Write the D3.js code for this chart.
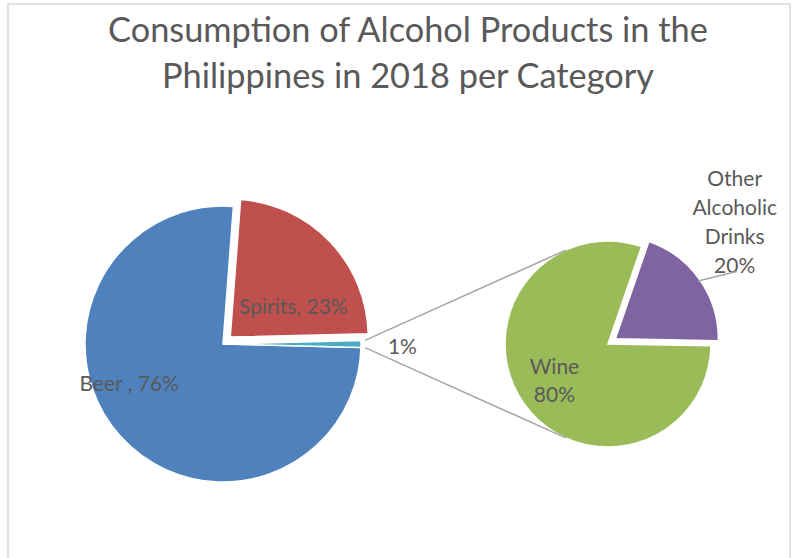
<!DOCTYPE html>
<html>
<head>
<meta charset="utf-8">
<script src="https://cdn.jsdelivr.net/npm/d3@7"></script>
<style>
  body { margin: 0; background: #fff; }
  text { font-family: Lato, "Open Sans", sans-serif; fill: #595959; }
</style>
</head>
<body>
<div id="chart"></div>
<script>
// Data
const mainCategories = ["Beer ", "Spirits", "Other"];
const mainValues = [75.8, 23.4, 0.8];
const subCategories = ["Wine", "Other Alcoholic Drinks"];
const subValues = [80, 20];
const titleLines = ["Consumption of Alcohol Products in the", "Philippines in 2018 per Category"];

// Function that draws the pie-of-pie chart
function drawPieOfPie() {
    const width = 795,
          height = 558;

    const svg = d3.select("#chart").append("svg")
        .attr("width", width)
        .attr("height", height);

    // chart border (bottom edge runs off the picture)
    svg.append("rect")
        .attr("x", 8).attr("y", 4)
        .attr("width", 782).attr("height", 620)
        .attr("fill", "#fff")
        .attr("stroke", "#d9d9d9")
        .attr("stroke-width", 1.5);

    // Title
    const title = svg.append("text")
        .attr("text-anchor", "middle")
        .style("font-size", "38px");
    title.selectAll("tspan")
        .data(titleLines)
        .enter()
        .append("tspan")
        .attr("x", 408)
        .attr("y", (d, i) => 42 + i * 46)
        .text(d => d);
    // fit the first line to the width seen in the picture
    const w0 = title.select("tspan").node().getComputedTextLength();
    title.style("font-size", (38 * 600 / w0) + "px");

    const cy = 344;
    const main = { cx: 223, r: 138 };
    const sub = { cx: 608, r: 103 };

    const mainColor = d3.scaleOrdinal().domain(mainCategories).range(["#4f81bd", "#c0504d", "#4bacc6"]);
    const subColor = d3.scaleOrdinal().domain(subCategories).range(["#9bbb59", "#8064a2"]);

    const polar = (cx, cyy, r, a) => [cx + r * Math.sin(a), cyy - r * Math.cos(a)];

    const mainTotal = d3.sum(mainValues);
    const otherShare = mainValues[2] / mainTotal;
    const start = Math.PI / 2 + otherShare * Math.PI; // keep the "Other" slice centred on 3 o'clock

    const mainPie = d3.pie()
        .sort(null)
        .startAngle(start)
        .endAngle(start + 2 * Math.PI)
        .value(d => d.value);

    const mainData = mainPie(mainCategories.map((k, i) => ({ key: k, value: mainValues[i] })));

    const mainArc = d3.arc().innerRadius(0).outerRadius(main.r);

    const explode = (d, dist) => {
        const mid = (d.startAngle + d.endAngle) / 2;
        return [dist * Math.sin(mid), -dist * Math.cos(mid)];
    };

    const gMain = svg.append("g").attr("transform", `translate(${main.cx}, ${cy})`);

    gMain.selectAll("path")
        .data(mainData)
        .enter()
        .append("path")
        .attr("d", mainArc)
        .attr("fill", d => mainColor(d.data.key))
        .attr("stroke", "white")
        .style("stroke-width", "1.5px")
        .attr("transform", d => {
            const off = d.data.key === "Spirits" ? explode(d, 10) : [0, 0];
            return `translate(${off})`;
        });

    // second pie
    const subTotal = d3.sum(subValues);
    const subStart = 91 * Math.PI / 180;
    const subPie = d3.pie()
        .sort(null)
        .startAngle(subStart)
        .endAngle(subStart + 2 * Math.PI)
        .value(d => d.value);

    const subData = subPie(subCategories.map((k, i) => ({ key: k, value: subValues[i] })));
    const subArc = d3.arc().innerRadius(0).outerRadius(sub.r);

    const gSub = svg.append("g").attr("transform", `translate(${sub.cx}, ${cy})`);

    gSub.selectAll("path")
        .data(subData)
        .enter()
        .append("path")
        .attr("d", subArc)
        .attr("fill", d => subColor(d.data.key))
        .attr("stroke", "white")
        .style("stroke-width", "1.5px")
        .attr("transform", d => {
            const off = d.index === 1 ? explode(d, 9) : [0, 0];
            return `translate(${off})`;
        });

    // connector lines from the "Other" slice to the tangents of the second pie
    const other = mainData[2];
    const tangent = (p, top) => {
        const dx = p[0] - sub.cx, dy = p[1] - cy;
        const d = Math.hypot(dx, dy);
        const th = Math.acos(sub.r / d) * (top ? 1 : -1);
        const ux = dx / d, uy = dy / d;
        const rx = ux * Math.cos(th) - uy * Math.sin(th);
        const ry = ux * Math.sin(th) + uy * Math.cos(th);
        return [sub.cx + sub.r * rx, cy + sub.r * ry];
    };
    const pTop = polar(main.cx, cy, main.r + 4, other.startAngle);
    const pBot = polar(main.cx, cy, main.r + 4, other.endAngle);
    let tA = tangent(pTop, true), tB = tangent(pTop, false);
    const tTop = tA[1] < tB[1] ? tA : tB;
    tA = tangent(pBot, true); tB = tangent(pBot, false);
    const tBot = tA[1] > tB[1] ? tA : tB;

    svg.selectAll("line.connector")
        .data([[pTop, tTop], [pBot, tBot]])
        .enter()
        .append("line")
        .attr("class", "connector")
        .attr("x1", d => d[0][0]).attr("y1", d => d[0][1])
        .attr("x2", d => d[1][0]).attr("y2", d => d[1][1])
        .attr("stroke", "#a6a6a6")
        .attr("stroke-width", 1.5);

    // data labels (offsets in units of radius, from the pie centre)
    const fontSize = 21, lineH = 28.8;
    const pct = (v, t) => Math.round(v / t * 100) + "%";

    const mainLabelPos = [[-0.68, 0.28], [0.51, -0.28], [1.30, 0.01]];
    svg.selectAll("text.mainLabel")
        .data(mainData)
        .enter()
        .append("text")
        .attr("class", "mainLabel")
        .attr("text-anchor", "middle")
        .attr("dominant-baseline", "central")
        .style("font-size", fontSize + "px")
        .attr("x", (d, i) => main.cx + mainLabelPos[i][0] * main.r)
        .attr("y", (d, i) => cy + mainLabelPos[i][1] * main.r)
        .text(d => d.data.key === "Other" ? pct(d.value, mainTotal) : `${d.data.key}, ${pct(d.value, mainTotal)}`);

    const subLabelPos = [[-0.52, 0.34], [1.23, -1.20]];
    subData.forEach((d, i) => {
        const lines = d.data.key.split(" ").concat([pct(d.value, subTotal)]);
        const x = sub.cx + subLabelPos[i][0] * sub.r;
        const yc = cy + subLabelPos[i][1] * sub.r;
        const y0 = yc - (lines.length - 1) * lineH / 2;
        const t = svg.append("text")
            .attr("text-anchor", "middle")
            .attr("dominant-baseline", "central")
            .style("font-size", fontSize + "px");
        t.selectAll("tspan")
            .data(lines)
            .enter()
            .append("tspan")
            .attr("x", x)
            .attr("y", (s, j) => y0 + j * lineH)
            .text(s => s);

        // leader line for the label sitting outside its slice
        if (i === 1) {
            const off = explode(d, 9);
            const mid = (d.startAngle + d.endAngle) / 2;
            const p = polar(sub.cx + off[0], cy + off[1], sub.r - 2, mid);
            svg.append("line")
                .attr("x1", p[0]).attr("y1", p[1])
                .attr("x2", x + 2).attr("y2", y0 + (lines.length - 1) * lineH + 8)
                .attr("stroke", "#a6a6a6")
                .attr("stroke-width", 1.5);
        }
    });
}

drawPieOfPie();
</script>
</body>
</html>
